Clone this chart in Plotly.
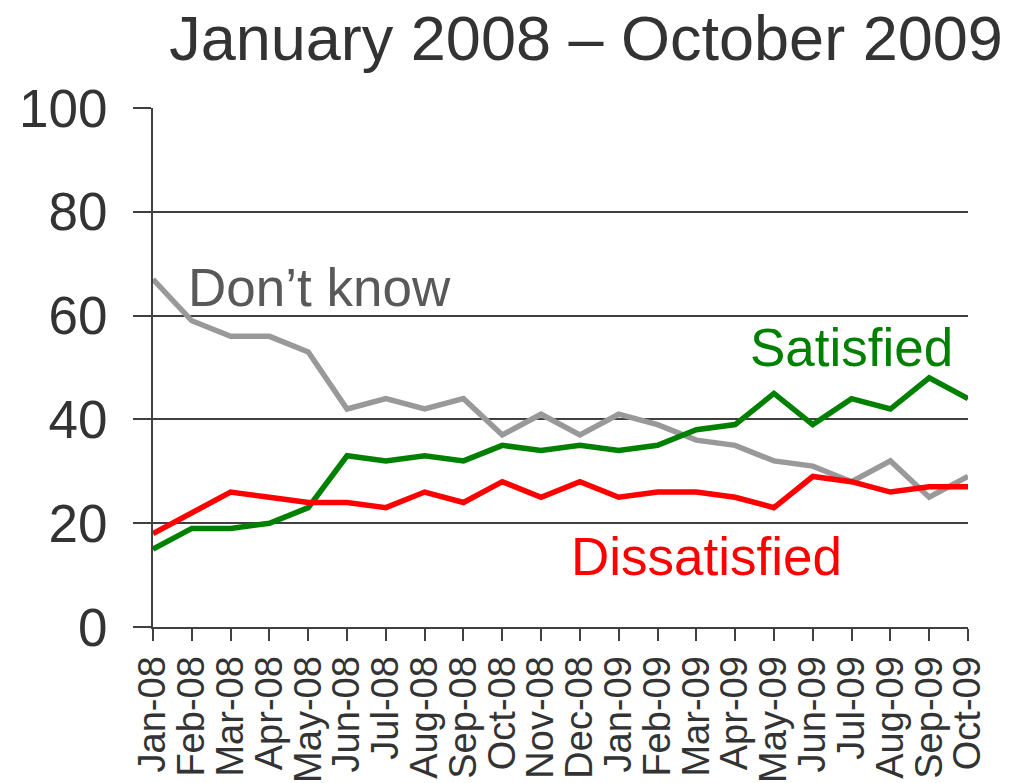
import plotly.graph_objects as go

months = ["Jan-08", "Feb-08", "Mar-08", "Apr-08", "May-08", "Jun-08", "Jul-08", "Aug-08",
          "Sep-08", "Oct-08", "Nov-08", "Dec-08", "Jan-09", "Feb-09", "Mar-09", "Apr-09",
          "May-09", "Jun-09", "Jul-09", "Aug-09", "Sep-09", "Oct-09"]
dont_know = [67, 59, 56, 56, 53, 42, 44, 42, 44, 37, 41, 37, 41, 39, 36, 35, 32, 31, 28, 32, 25, 29]
satisfied = [15, 19, 19, 20, 23, 33, 32, 33, 32, 35, 34, 35, 34, 35, 38, 39, 45, 39, 44, 42, 48, 44]
dissatisfied = [18, 22, 26, 25, 24, 24, 23, 26, 24, 28, 25, 28, 25, 26, 26, 25, 23, 29, 28, 26, 27, 27]
y_ticks = [0, 20, 40, 60, 80, 100]

FONT = "Liberation Sans, Arial, sans-serif"
TXT = "#333333"
GRID = "#404040"

fig = go.Figure()
fig.add_trace(go.Scatter(x=months, y=dont_know, mode="lines", name="Don't know",
                         line=dict(color="#999999", width=5.5)))
fig.add_trace(go.Scatter(x=months, y=satisfied, mode="lines", name="Satisfied",
                         line=dict(color="#008000", width=5.5)))
fig.add_trace(go.Scatter(x=months, y=dissatisfied, mode="lines", name="Dissatisfied",
                         line=dict(color="#ff0000", width=5.5)))

fig.update_layout(
    width=1030, height=783,
    margin=dict(l=145, r=70, t=100, b=164, autoexpand=False),
    paper_bgcolor="white", plot_bgcolor="white",
    showlegend=False,
    font=dict(family=FONT, color=TXT),
    title=dict(text="January 2008 – October 2009", x=578/1030, xanchor="center",
               y=1 - 30/783, yanchor="middle", yref="container", automargin=False,
               font=dict(size=63, color=TXT, family=FONT)),
)
fig.update_xaxes(
    type="category", range=[0, len(months) - 1], automargin=False,
    tickmode="linear", dtick=1, tickangle=-90,
    ticks="outside", ticklen=12, tickwidth=2, tickcolor=GRID,
    showline=True, linecolor=GRID, linewidth=2,
    showgrid=False, tickfont=dict(size=38, color=TXT, family=FONT),
)
fig.update_yaxes(
    range=[0, 100], tickvals=y_ticks, automargin=False,
    ticks="outside", ticklen=18, tickwidth=2, tickcolor=GRID,
    showline=True, linecolor=GRID, linewidth=2,
    showgrid=True, gridcolor=GRID, gridwidth=1.5,
    zeroline=False, tickfont=dict(size=53, color=TXT, family=FONT),
    ticklabelstandoff=15,
)

fig.add_annotation(text="Don’t know", xref="paper", yref="y", x=33/815, y=65.5,
                   xanchor="left", yanchor="middle", showarrow=False,
                   font=dict(size=53, color="#595959", family=FONT))
fig.add_annotation(text="Satisfied", xref="paper", yref="y", x=595/815, y=53.8,
                   xanchor="left", yanchor="middle", showarrow=False,
                   font=dict(size=53, color="#008000", family=FONT))
fig.add_annotation(text="Dissatisfied", xref="paper", yref="y", x=416/815, y=13.5,
                   xanchor="left", yanchor="middle", showarrow=False,
                   font=dict(size=53, color="#ff0000", family=FONT))

fig.write_html("out.html")
